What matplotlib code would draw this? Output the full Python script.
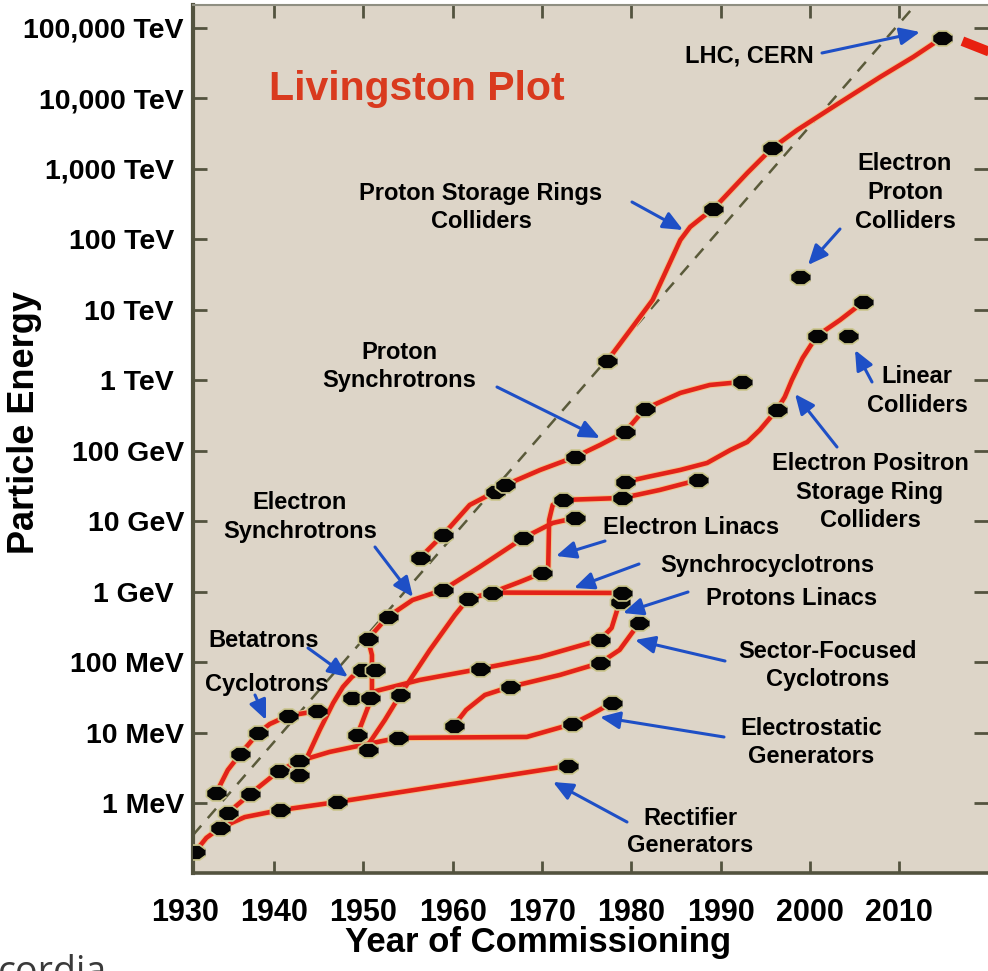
"""
Livingston plot: particle energy vs year of commissioning.
"""

import matplotlib.pyplot as plt
import matplotlib.transforms as mtransforms
import numpy as np

# ---- data: year of commissioning, energy in MeV ----
RECT_YEAR = [1931.1, 1932.4, 1933.9, 1936.7, 1940.6, 1947.0, 1972.9]
RECT_MEV = [0.20, 0.32, 0.44, 0.63, 0.79, 1.03, 3.35]
RECT_DOTS = [0, 2, 4, 5, 6]

ESTAT_YEAR = [1933.9, 1934.8, 1937.3, 1940.5, 1942.8, 1946.2, 1950.5, 1953.9,
              1968.3, 1973.4, 1975.4, 1977.8]
ESTAT_MEV = [0.44, 0.72, 1.34, 2.84, 3.94, 5.3, 6.9, 8.4, 8.65, 13.2, 17.7, 26.2]
ESTAT_DOTS = [1, 2, 3, 4, 7, 9, 11]

CYCLO_YEAR = [1933.5, 1934.8, 1936.2, 1938.2, 1939.5, 1941.5, 1944.8]
CYCLO_MEV = [1.39, 2.94, 4.95, 9.85, 13.2, 17.2, 20.2]
CYCLO_DOTS = [0, 2, 3, 5, 6]

BETA_YEAR = [1942.8, 1943.7, 1945.1, 1946.6, 1947.7, 1948.7, 1949.8]
BETA_MEV = [2.5, 4.5, 10.9, 26.2, 44.4, 61.4, 77.3]
BETA_DOTS = [0, 6]

LINK_YEAR = [1950.5, 1950.95, 1950.95, 1949.3]
LINK_MEV = [213, 126, 32.0, 9.2]
LINK_DOTS = [3]

PLINAC_YEAR = [1950.95, 1956.3, 1963.0, 1969.8, 1976.5, 1977.8, 1978.7]
PLINAC_MEV = [37.6, 55.7, 79.8, 118, 206, 305, 713]
PLINAC_DOTS = [2, 4, 6]

SECTOR_YEAR = [1960.1, 1961.5, 1963.6, 1966.4, 1972.0, 1976.5, 1978.7, 1980.9]
SECTOR_MEV = [12.4, 20.9, 34.1, 44.4, 65.6, 97.0, 149, 359]
SECTOR_DOTS = [0, 3, 5, 7]

SYNCC_YEAR = [1950.5, 1952.4, 1954.1, 1957.45, 1960.25, 1961.7, 1964.4, 1979.0]
SYNCC_MEV = [6.65, 15.1, 34.1, 149, 466, 785, 970, 957]
SYNCC_DOTS = [2, 5, 6, 7]

ESYNC_YEAR = [1950.5, 1952.7, 1955.5, 1958.9, 1963.0, 1967.9, 1971.2, 1973.7]
ESYNC_MEV = [213, 437, 760, 1054, 2239, 5768, 9419, 11090]
ESYNC_DOTS = [0, 1, 3, 5, 7]

ELINAC_YEAR = [1964.4, 1967.5, 1970.0, 1970.7, 1970.8, 1971.2, 1972.4, 1979.0,
               1983.2, 1987.5]
ELINAC_MEV = [970, 1371, 1841, 2239, 10400, 16980, 20000, 21330, 27730, 38460]
ELINAC_DOTS = [0, 2, 6, 7, 9]

PSYNC_YEAR = [1956.3, 1958.9, 1961.9, 1964.7, 1965.9, 1969.8, 1973.7, 1976.5,
              1979.3, 1981.5, 1985.5, 1988.8, 1992.4]
PSYNC_MEV = [3000, 6368, 16980, 25940, 32660, 53330, 81470, 120500, 184500,
             390800, 660700, 857000, 946000]
PSYNC_DOTS = [0, 1, 3, 4, 6, 8, 9, 12]

EPEM_YEAR = [1979.3, 1981.8, 1985.5, 1988.5, 1991.1, 1993.0, 1994.4, 1996.3,
             1997.2, 1998.0, 1999.2, 2000.8, 2003.4, 2006.0]
EPEM_MEV = [35970, 42400, 53330, 67000, 102300, 133000, 196800, 378400,
            579000, 1.01e6, 2.07e6, 4.26e6, 7.18e6, 1.29e7]
EPEM_DOTS = [0, 7, 11, 13]

PSR_YEAR = [1977.3, 1979.9, 1982.4, 1985.5, 1986.6, 1988.0, 1989.2, 1993.0,
            1995.8, 1998.6, 2002.6, 2007.9, 2011.6, 2014.8]
PSR_MEV = [1.88e6, 5.18e6, 1.38e7, 9.79e7, 1.50e8, 2.08e8, 2.70e8, 8.75e8,
           1.98e9, 3.57e9, 7.57e9, 2.02e10, 3.88e10, 7.23e10]
PSR_DOTS = [0, 6, 8, 13]

# single machines near 1950 and the lone collider points
LONE_YEAR = [1948.7, 1950.7, 1951.3, 1950.5, 1998.9, 2004.3]
LONE_MEV = [30.9, 30.9, 77.3, 5.65, 2.92e7, 4.26e6]

LHC_BAR_YEAR = [2017.1, 2020.5]
LHC_BAR_MEV = [6.5e10, 4.4e10]

TREND_YEAR = [1930.9, 2011.8]
TREND_MEV = [0.35, 2.1e11]

YEAR_TICKS = [1930, 1940, 1950, 1960, 1970, 1980, 1990, 2000, 2010]
ENERGY_TICKS = [1, 10, 100, 1e3, 1e4, 1e5, 1e6, 1e7, 1e8, 1e9, 1e10, 1e11]
ENERGY_LABELS = ["1 MeV", "10 MeV", "100 MeV", "1 GeV", "10 GeV", "100 GeV",
                 "1 TeV", "10 TeV", "100 TeV", "1,000 TeV", "10,000 TeV",
                 "100,000 TeV"]
SHIFTED_LABELS = {"1 GeV", "1 TeV", "10 TeV", "100 TeV", "1,000 TeV"}

# (text, centre x px, baseline y px)
LABELS = [
    ("LHC, CERN", 749, 63),
    ("Proton Storage Rings", 481, 200), ("Colliders", 481, 228),
    ("Electron", 905, 170), ("Proton", 905, 199), ("Colliders", 905, 228),
    ("Proton", 399, 359), ("Synchrotrons", 399, 387),
    ("Linear", 917, 383), ("Colliders", 917, 412),
    ("Electron Positron", 870, 470), ("Storage Ring", 870, 499),
    ("Colliders", 870, 527),
    ("Electron", 300, 509), ("Synchrotrons", 300, 538),
    ("Electron Linacs", 691, 534),
    ("Synchrocyclotrons", 767, 572),
    ("Protons Linacs", 792, 605),
    ("Betatrons", 264, 647),
    ("Cyclotrons", 267, 691),
    ("Sector-Focused", 828, 658), ("Cyclotrons", 828, 686),
    ("Electrostatic", 811, 735), ("Generators", 811, 763),
    ("Rectifier", 690, 825), ("Generators", 690, 852),
]

# (tail, head) in px
ARROWS = [
    ((822, 53), (920, 32)),
    ((632, 202), (683, 230)),
    ((840, 229), (808, 265)),
    ((872, 382), (855, 350)),
    ((837, 447), (795, 394)),
    ((497, 387), (600, 438)),
    ((375, 547), (413, 597)),
    ((605, 541), (556, 556)),
    ((639, 564), (574, 588)),
    ((688, 592), (623, 613)),
    ((725, 661), (635, 640)),
    ((724, 737), (600, 717)),
    ((627, 822), (553, 782)),
    ((308, 648), (348, 677)),
    ((255, 695), (266, 720)),
]

W, H = 988, 971
RED = "#e3231a"
HALO = "#f2c48c"
BLUE = "#1e4fc6"
BG = "#ddd5c8"
AXC = "#53533f"

plt.rcParams["font.family"] = ["Liberation Sans", "DejaVu Sans"]
plt.rcParams["font.weight"] = "bold"


def fpx(x, y):
    return (x / W, 1 - y / H)


fig = plt.figure(figsize=(W / 100, H / 100), dpi=100)
ax = fig.add_axes([193 / W, (H - 873) / H, (W - 193) / W, 868 / H])
ax.set_facecolor(BG)
ax.set_yscale("log")
ax.set_xlim(1930.9, 2019.97)
ax.set_ylim(0.1014, 2.12e11)

# slightly flattened octagon for the machine dots
t = np.linspace(0, 2 * np.pi, 9)[:-1] + np.pi / 8
DOT = np.column_stack([np.cos(t), 0.74 * np.sin(t)])

ax.plot(TREND_YEAR, TREND_MEV, color="#5a5a3a", lw=1.8, ls=(0, (5, 4)), zorder=2)

series = [
    (RECT_YEAR, RECT_MEV, RECT_DOTS),
    (ESTAT_YEAR, ESTAT_MEV, ESTAT_DOTS),
    (CYCLO_YEAR, CYCLO_MEV, CYCLO_DOTS),
    (BETA_YEAR, BETA_MEV, BETA_DOTS),
    (LINK_YEAR, LINK_MEV, LINK_DOTS),
    (PLINAC_YEAR, PLINAC_MEV, PLINAC_DOTS),
    (SECTOR_YEAR, SECTOR_MEV, SECTOR_DOTS),
    (SYNCC_YEAR, SYNCC_MEV, SYNCC_DOTS),
    (ESYNC_YEAR, ESYNC_MEV, ESYNC_DOTS),
    (ELINAC_YEAR, ELINAC_MEV, ELINAC_DOTS),
    (PSYNC_YEAR, PSYNC_MEV, PSYNC_DOTS),
    (EPEM_YEAR, EPEM_MEV, EPEM_DOTS),
    (PSR_YEAR, PSR_MEV, PSR_DOTS),
]
for yrs, mev, dots in series:
    ax.plot(yrs, mev, color=HALO, lw=4.8, solid_capstyle="round",
            solid_joinstyle="round", zorder=3)
    ax.plot(yrs, mev, color=RED, lw=3.3, solid_capstyle="round",
            solid_joinstyle="round", zorder=4)
for yrs, mev, dots in series:
    ax.plot([yrs[i] for i in dots], [mev[i] for i in dots], ls="none",
            marker=DOT, ms=14.5, mfc="#050505", mec="#c9c48a", mew=1.2, zorder=5)
ax.plot(LONE_YEAR, LONE_MEV, ls="none", marker=DOT, ms=14.5, mfc="#050505",
        mec="#c9c48a", mew=1.2, zorder=5)

ax.plot(LHC_BAR_YEAR, LHC_BAR_MEV, color="#e8200f", lw=7,
        solid_capstyle="butt", zorder=4, clip_on=True)

# axes frame and ticks
for side in ["left", "bottom"]:
    ax.spines[side].set_color(AXC)
ax.spines["left"].set_linewidth(3)
ax.spines["bottom"].set_linewidth(2.6)
ax.spines["top"].set_color("#8f8f82")
ax.spines["top"].set_linewidth(1.5)
ax.spines["right"].set_visible(False)

ax.set_yticks(ENERGY_TICKS)
ax.set_yticklabels(ENERGY_LABELS)
ax.minorticks_off()
ax.set_xticks([y for y in YEAR_TICKS if y > 1931])
ax.tick_params(axis="y", which="major", direction="in", length=10, width=2,
               color=AXC, pad=6.5, labelsize=20.5, right=True)
ax.tick_params(axis="x", which="major", direction="in", length=9, width=2,
               color=AXC, top=True, labelbottom=False)
shift = mtransforms.ScaledTranslation(-0.10, 0, fig.dpi_scale_trans)
for lab in ax.get_yticklabels():
    lab.set_fontweight("bold")
    if lab.get_text() in SHIFTED_LABELS:
        lab.set_transform(lab.get_transform() + shift)

# year labels, drawn as text so 1930 can sit left of the frame
xlab_tr = mtransforms.blended_transform_factory(ax.transData, fig.transFigure)
for yr in YEAR_TICKS:
    ax.text(yr, 1 - 921 / H, str(yr), transform=xlab_tr, ha="center",
            va="baseline", fontsize=22, fontweight="bold", clip_on=False)

fig.text(*fpx(538, 952), "Year of Commissioning", ha="center", va="baseline",
         fontsize=25, fontweight="bold")
fig.text(*fpx(25, 422), "Particle Energy", rotation=90, ha="center",
         va="center", fontsize=26, fontweight="bold")
fig.text(*fpx(417, 100), "Livingston Plot", ha="center", va="baseline",
         fontsize=29.5, fontweight="bold", color="#d93a1e")

for txt, x, y in LABELS:
    fig.text(*fpx(x, y), txt, ha="center", va="baseline", fontsize=17,
             fontweight="bold", color="black", zorder=6)

for tail, head in ARROWS:
    ax.annotate("", xy=fpx(*head), xytext=fpx(*tail),
                xycoords="figure fraction", textcoords="figure fraction",
                arrowprops=dict(arrowstyle="-|>,head_length=0.5,head_width=0.22",
                                mutation_scale=24, lw=2.2, color=BLUE,
                                shrinkA=0, shrinkB=0),
                zorder=6, annotation_clip=False)

# cut-off logo text at the lower left, as in the source image
fig.text(*fpx(-2, 983), "cordia", fontsize=27, fontweight="normal",
         family=["Open Sans", "DejaVu Sans"], color="#3a3a3a", ha="left",
         va="baseline")

fig.savefig("out.png", dpi=100)
